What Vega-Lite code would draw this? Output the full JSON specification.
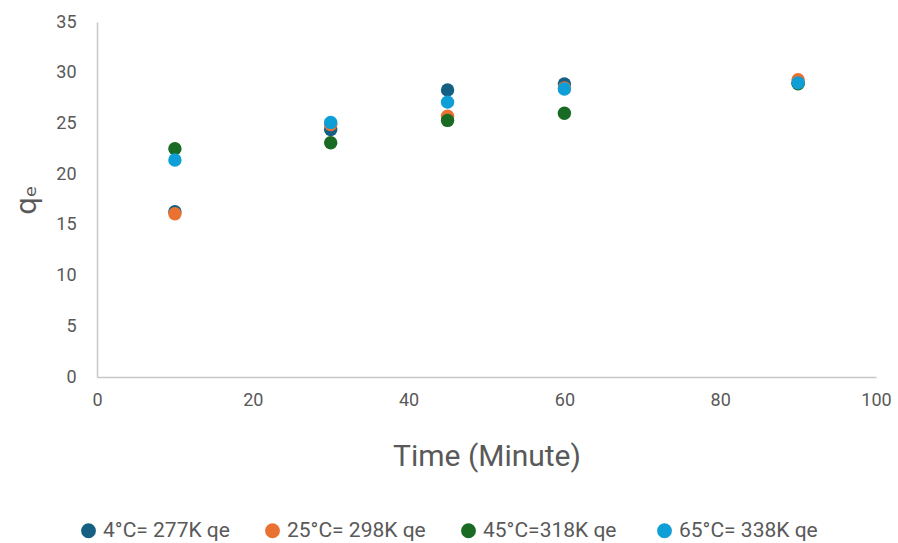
{
  "$schema": "https://vega.github.io/schema/vega-lite/v6.json",
  "width": 779,
  "height": 355,
  "autosize": {"type": "none"},
  "padding": {"left": 97, "top": 22, "right": 22, "bottom": 166},
  "background": "white",
  "config": {
    "view": {"stroke": null},
    "font": "Roboto",
    "axis": {"grid": false, "ticks": false, "domainColor": "#C8C8C8", "domainWidth": 1.5, "labelColor": "#595959", "labelFontSize": 18, "titleColor": "#595959", "titleFontWeight": "normal", "labelFlush": false, "labelOverlap": false}
  },
  "data": {
    "values": [
      {"t": 10, "q": 16.3, "s": "4°C= 277K qe"},
      {"t": 30, "q": 24.4, "s": "4°C= 277K qe"},
      {"t": 45, "q": 28.3, "s": "4°C= 277K qe"},
      {"t": 60, "q": 28.9, "s": "4°C= 277K qe"},
      {"t": 90, "q": 29.0, "s": "4°C= 277K qe"},
      {"t": 10, "q": 16.1, "s": "25°C= 298K qe"},
      {"t": 30, "q": 24.9, "s": "25°C= 298K qe"},
      {"t": 45, "q": 25.7, "s": "25°C= 298K qe"},
      {"t": 60, "q": 28.5, "s": "25°C= 298K qe"},
      {"t": 90, "q": 29.3, "s": "25°C= 298K qe"},
      {"t": 10, "q": 22.5, "s": "45°C=318K  qe"},
      {"t": 30, "q": 23.1, "s": "45°C=318K  qe"},
      {"t": 45, "q": 25.3, "s": "45°C=318K  qe"},
      {"t": 60, "q": 26.0, "s": "45°C=318K  qe"},
      {"t": 90, "q": 28.9, "s": "45°C=318K  qe"},
      {"t": 10, "q": 21.4, "s": "65°C= 338K qe"},
      {"t": 30, "q": 25.1, "s": "65°C= 338K qe"},
      {"t": 45, "q": 27.1, "s": "65°C= 338K qe"},
      {"t": 60, "q": 28.4, "s": "65°C= 338K qe"},
      {"t": 90, "q": 29.0, "s": "65°C= 338K qe"}
    ]
  },
  "mark": {"type": "circle", "size": 180, "opacity": 1},
  "encoding": {
    "x": {"field": "t", "type": "quantitative", "scale": {"domain": [0, 100], "nice": false}, "axis": {"values": [0, 20, 40, 60, 80, 100], "title": "Time (Minute)", "titleFontSize": 30, "titlePadding": 32, "labelPadding": 14}},
    "y": {"field": "q", "type": "quantitative", "scale": {"domain": [0, 35], "nice": false}, "axis": {"values": [0, 5, 10, 15, 20, 25, 30, 35], "title": "qₑ", "titleFont": "DejaVu Sans", "titleFontSize": 28, "titlePadding": 14, "labelPadding": 21}},
    "color": {
      "field": "s", "type": "nominal",
      "scale": {"domain": ["4°C= 277K qe", "25°C= 298K qe", "45°C=318K  qe", "65°C= 338K qe"], "range": ["#156082", "#E97132", "#196B24", "#0F9ED5"]},
      "legend": {"orient": "none", "legendX": -19, "legendY": 498, "direction": "horizontal", "title": null, "symbolType": "circle", "symbolSize": 220, "labelFontSize": 21, "labelColor": "#595959", "columnPadding": 32, "symbolOffset": 0, "labelOffset": 4}
    }
  }
}
